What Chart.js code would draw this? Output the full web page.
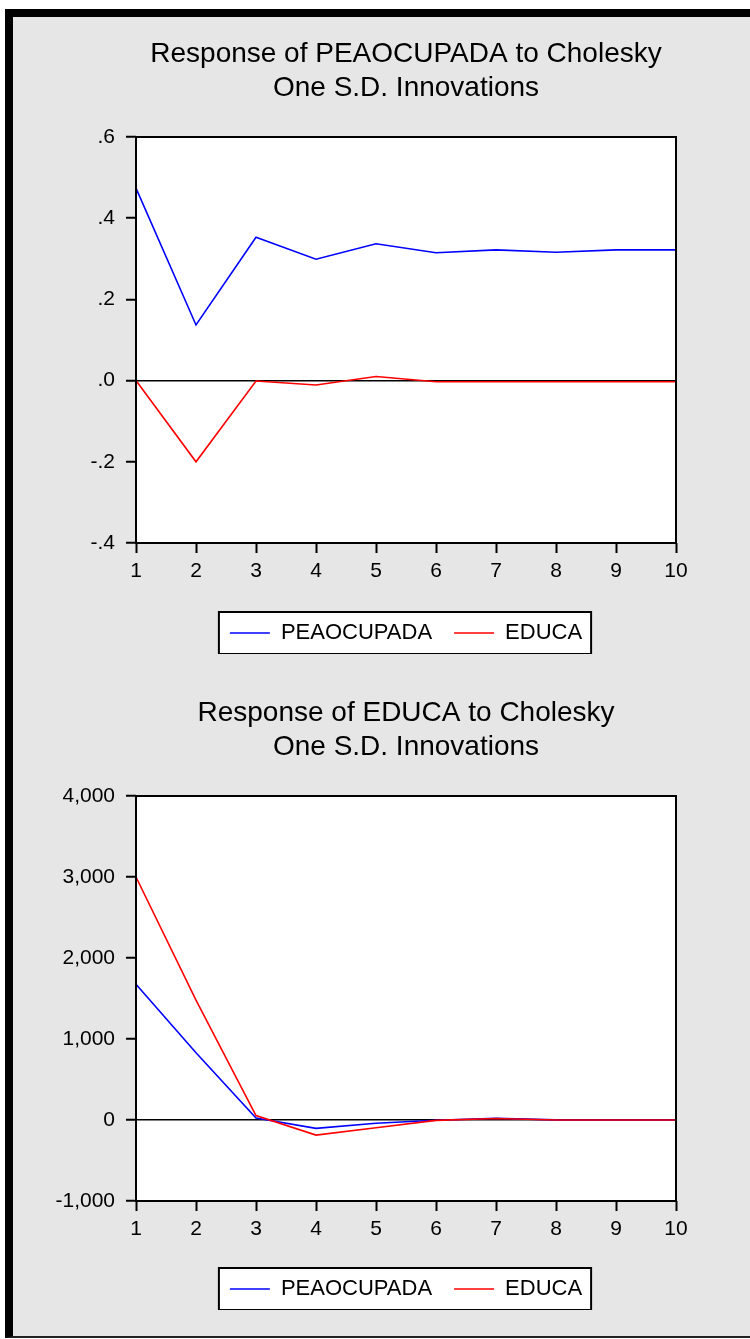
<!DOCTYPE html>
<html>
<head>
<meta charset="utf-8">
<script src="https://cdn.jsdelivr.net/npm/chart.js@4.4.1/dist/chart.umd.min.js"></script>
<style>
  html, body { margin: 0; padding: 0; background: #ffffff; width: 750px; height: 1339px; overflow: hidden; }
  #frame { position: absolute; left: 5px; top: 9px; width: 800px; height: 1319px;
           border-left: 8px solid #000; border-top: 8px solid #000; border-bottom: 2px solid #222;
           background: #e6e6e6; }
  canvas { position: absolute; left: 0; }
  #c1 { top: 0px; }
  #c2 { top: 654px; }
</style>
</head>
<body>
<div id="frame"></div>
<canvas id="c1" width="750" height="654"></canvas>
<canvas id="c2" width="750" height="656"></canvas>
<script>
// ---- data ----
const categories = ['1', '2', '3', '4', '5', '6', '7', '8', '9', '10'];
const seriesNames = ['PEAOCUPADA', 'EDUCA'];

// Response of PEAOCUPADA
const peaFromPea   = [0.474, 0.137, 0.353, 0.299, 0.337, 0.315, 0.322, 0.316, 0.322, 0.322];
const peaFromEduca = [0.000, -0.200, -0.001, -0.011, 0.010, -0.003, -0.003, -0.003, -0.003, -0.003];
const yTickValues1 = [-0.4, -0.2, 0, 0.2, 0.4, 0.6];
const yTickLabels1 = ['-.4', '-.2', '.0', '.2', '.4', '.6'];

// Response of EDUCA
const educaFromPea   = [1675, 830, 25, -103, -40, -3, 22, 1, 0, 0];
const educaFromEduca = [3000, 1480, 55, -186, -95, -5, 18, 0, 0, 0];
const yTickValues2 = [-1000, 0, 1000, 2000, 3000, 4000];
const yTickLabels2 = ['-1,000', '0', '1,000', '2,000', '3,000', '4,000'];

const titles1 = ['Response of PEAOCUPADA to Cholesky', 'One S.D. Innovations'];
const titles2 = ['Response of EDUCA to Cholesky', 'One S.D. Innovations'];

// ---- styling ----
Chart.defaults.font.family = "'Liberation Sans', Arial, sans-serif";
Chart.defaults.color = '#000';

const framePlugin = {
  id: 'framePlugin',
  beforeDraw(chart) {
    const ctx = chart.ctx, a = chart.chartArea;
    ctx.save();
    ctx.fillStyle = '#ffffff';
    ctx.fillRect(a.left, a.top, a.right - a.left, a.bottom - a.top);
    const hb = chart.legend && chart.legend.legendHitBoxes;
    if (hb && hb.length) {
      const l = Math.min(...hb.map(h => h.left)) - 11;
      const r = Math.max(...hb.map(h => h.left + h.width)) + 9;
      const cy = hb[0].top + hb[0].height / 2;
      chart.$legendBox = {l, r, t: cy - 21, b: cy + 21};
      ctx.fillRect(l, cy - 21, r - l, 42);
    }
    ctx.restore();
  },
  afterDraw(chart) {
    const ctx = chart.ctx, a = chart.chartArea;
    ctx.save();
    ctx.strokeStyle = '#000';
    ctx.lineWidth = 2;
    ctx.strokeRect(a.left, a.top, a.right - a.left, a.bottom - a.top);
    const lb = chart.$legendBox;
    if (lb) ctx.strokeRect(lb.l, lb.t, lb.r - lb.l, lb.b - lb.t);
    ctx.restore();
  }
};

function makeChart(id, titleLines, blue, red, tickVals, tickLabels, titlePad, xHeight) {
  return new Chart(document.getElementById(id), {
    type: 'line',
    data: {
      labels: categories,
      datasets: [
        { label: seriesNames[0], data: blue, borderColor: '#0000ff', backgroundColor: '#0000ff',
          borderWidth: 1.6, pointRadius: 0, pointStyle: 'line', tension: 0, order: 1 },
        { label: seriesNames[1], data: red, borderColor: '#ff0000', backgroundColor: '#ff0000',
          borderWidth: 1.6, pointRadius: 0, pointStyle: 'line', tension: 0, order: 0 }
      ]
    },
    options: {
      responsive: false,
      animation: false,
      devicePixelRatio: 1,
      events: [],
      layout: { padding: { left: 0, right: 74, top: 0, bottom: 0 } },
      plugins: {
        tooltip: { enabled: false },
        title: {
          display: true,
          text: titleLines,
          fullSize: false,
          color: '#000',
          font: { size: 28, weight: 'normal', lineHeight: '34px' },
          padding: titlePad
        },
        legend: {
          display: true,
          position: 'bottom',
          fullSize: false,
          labels: {
            usePointStyle: true,
            pointStyle: 'line',
            pointStyleWidth: 40,
            padding: 22,
            color: '#000',
            font: { size: 22 },
            sort: (a, b) => a.datasetIndex - b.datasetIndex
          }
        }
      },
      scales: {
        x: {
          type: 'category',
          offset: false,
          afterFit: s => { s.height = xHeight; },
          border: { display: false },
          grid: { display: true, drawOnChartArea: false, drawTicks: true, tickLength: 10,
                  tickColor: '#000', tickWidth: 2, offset: false },
          ticks: { padding: 6, font: { size: 21 }, color: '#000', maxRotation: 0, autoSkip: false }
        },
        y: {
          type: 'linear',
          min: tickVals[0],
          max: tickVals[tickVals.length - 1],
          afterBuildTicks: s => { s.ticks = tickVals.map(v => ({ value: v })); },
          afterFit: s => { s.width = 136; },
          border: { display: false },
          grid: {
            display: true, drawOnChartArea: true, drawTicks: true, tickLength: 10,
            color: c => (c.tick && c.tick.value === 0) ? '#000' : 'rgba(0,0,0,0)',
            lineWidth: 1.5, tickColor: '#000', tickWidth: 2
          },
          ticks: { padding: 11, font: { size: 21 }, color: '#000',
                   callback: (v, i) => tickLabels[i] }
        }
      }
    },
    plugins: [framePlugin]
  });
}

makeChart('c1', titles1, peaFromPea, peaFromEduca, yTickValues1, yTickLabels1, { top: 37, bottom: 32 }, 57);
makeChart('c2', titles2, educaFromPea, educaFromEduca, yTickValues2, yTickLabels2, { top: 42, bottom: 32 }, 55);
</script>
</body>
</html>
